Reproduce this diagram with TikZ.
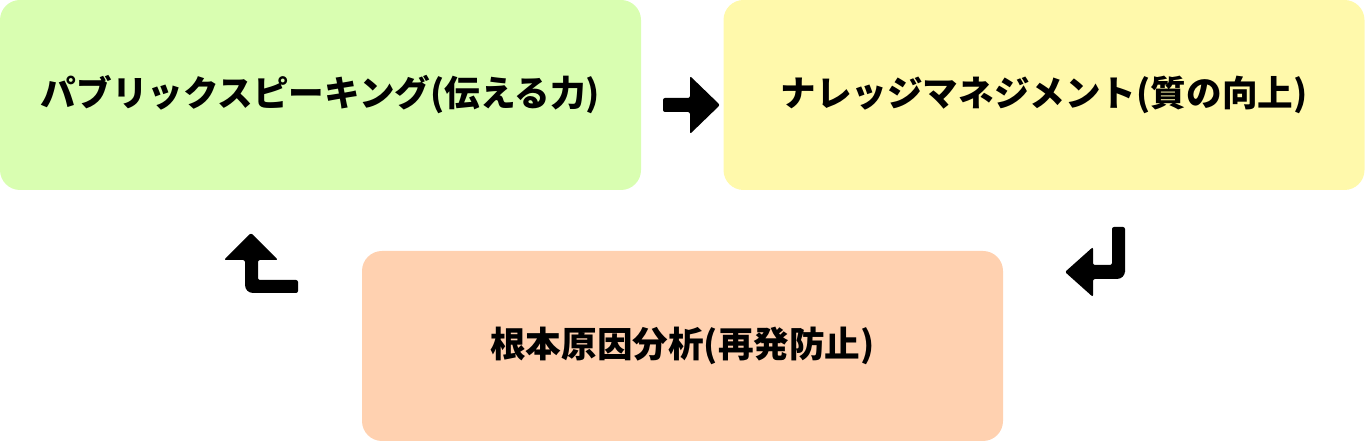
\documentclass[tikz,border=0pt]{standalone}
\usepackage{fontspec}
\newfontfamily\jpfont{Noto Sans CJK JP}
\usetikzlibrary{positioning}

\definecolor{speakgreen}{HTML}{D9FEB1}
\definecolor{knowyellow}{HTML}{FFF9AB}
\definecolor{rootorange}{HTML}{FFD1B0}

\tikzset{
  stage/.style={rounded corners=15pt, minimum width=480.75pt, minimum height=142.5pt,
    inner sep=0pt, font=\jpfont\bfseries\fontsize{26.7}{30}\selectfont},
  icon/.style={fill=black, rounded corners=1.5pt}
}

\begin{document}
\begin{tikzpicture}[x=0.75pt, y=-0.75pt]
        \useasboundingbox (0,0) rectangle (1365,441);
        % 三つの段階
        \node[stage, fill=speakgreen] (speak) at (320.5,95) {パブリックスピーキング(伝える力)};
        \node[stage, fill=knowyellow] (know) at (1044,95) {ナレッジマネジメント(質の向上)};
        \node[stage, fill=rootorange] (root) at (682.5,346) {根本原因分析(再発防止)};

        % 矢印アイコン
        \fill[icon] (663,98) -- (690,98) -- (690,76) -- (720,105) -- (690,134) -- (690,112) -- (663,112) -- cycle;
        \fill[icon] (1112,227) -- (1125,227) -- (1125,270) [rounded corners=6pt] -- (1125,279) [rounded corners=1.5pt] -- (1093,279) -- (1093,297) -- (1065,272) -- (1093,247) -- (1093,265) -- (1112,265) -- cycle;
        \fill[icon] (298,293) [rounded corners=6pt] -- (245,293) [rounded corners=1.5pt] -- (245,260) -- (224,260) -- (251,233) -- (278,260) -- (258,260) -- (258,280) -- (298,280) -- cycle;
    \end{tikzpicture}
\end{document}
